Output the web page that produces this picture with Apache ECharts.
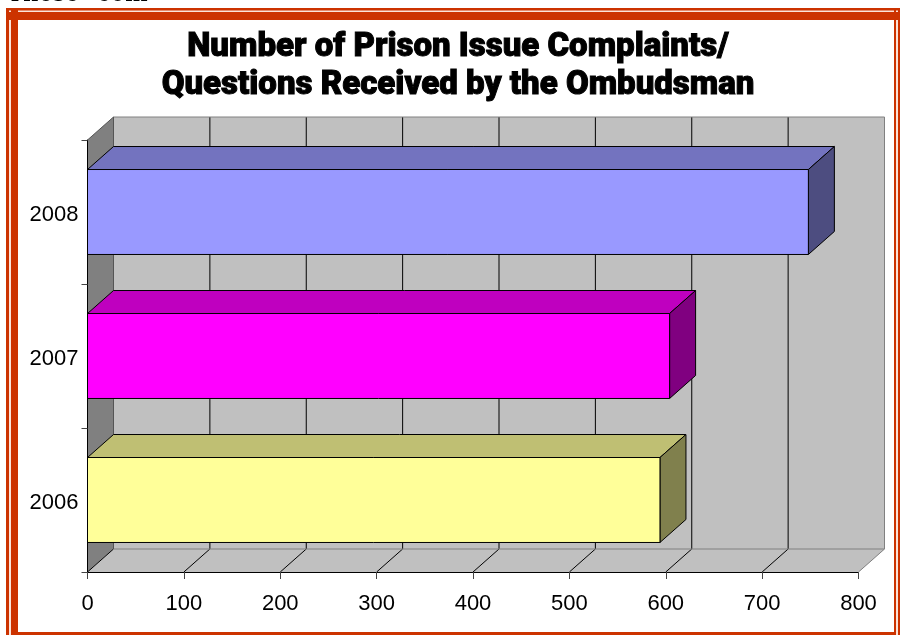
<!DOCTYPE html>
<html>
<head>
<meta charset="utf-8">
<style>
html, body { margin: 0; padding: 0; background: #fff; }
#main { width: 905px; height: 635px; }
</style>
<script src="https://cdn.jsdelivr.net/npm/echarts@6/dist/echarts.min.js"></script>
</head>
<body>
<div id="main"></div>
<script>
const categories = ['2006', '2007', '2008'];
const complaints = [594, 604, 748];
const xTicks = [0, 100, 200, 300, 400, 500, 600, 700, 800];

// front, top and side shades for each bar
const frontColors = ['#FFFF99', '#FF00FF', '#9999FF'];
const topColors = ['#BFBF73', '#BF00BF', '#7373BF'];
const sideColors = ['#80804D', '#800080', '#4D4D80'];

const depthX = 26;
const depthY = -23;
const barShare = 0.59;

function line(x1, y1, x2, y2, color) {
    return {
        type: 'line',
        shape: { x1, y1, x2, y2 },
        style: { stroke: color, lineWidth: 1 }
    };
}

function poly(points, fill, stroke) {
    return {
        type: 'polygon',
        shape: { points },
        style: { fill, stroke: stroke || 'none', lineWidth: 1 }
    };
}

function renderWalls(params, api) {
    const r = params.coordSys;
    const left = r.x, right = r.x + r.width, top = r.y, bottom = r.y + r.height;
    const children = [
        poly([[left + depthX, top + depthY], [right + depthX, top + depthY], [right + depthX, bottom + depthY], [left + depthX, bottom + depthY]], '#C0C0C0'),
        poly([[left, top], [left + depthX, top + depthY], [left + depthX, bottom + depthY], [left, bottom]], '#808080'),
        poly([[left, bottom], [left + depthX, bottom + depthY], [right + depthX, bottom + depthY], [right, bottom]], '#C0C0C0')
    ];
    xTicks.forEach(function (t) {
        const x = api.coord([t, 0])[0];
        if (t > 0 && t < 800) {
            children.push(line(x + depthX, top + depthY, x + depthX, bottom + depthY, '#000'));
        }
        children.push(line(x, bottom, x + depthX, bottom + depthY, t === 800 ? '#808080' : '#000'));
    });
    // outline of the back wall
    children.push(line(left + depthX, top + depthY, right + depthX, top + depthY, '#808080'));
    children.push(line(right + depthX, top + depthY, right + depthX, bottom + depthY, '#808080'));
    children.push(line(left + depthX, bottom + depthY, right + depthX, bottom + depthY, '#808080'));
    children.push(line(left + depthX, top + depthY, left + depthX, bottom + depthY, '#555'));
    children.push(line(left, top, left + depthX, top + depthY, '#555'));
    return { type: 'group', children };
}

function renderBar(params, api) {
    const i = api.value(1);
    const start = api.coord([0, i]);
    const end = api.coord([api.value(0), i]);
    const h = api.size([0, 1])[1] * barShare;
    const x0 = start[0], x1 = end[0];
    const y0 = end[1] - h / 2, y1 = end[1] + h / 2;
    return {
        type: 'group',
        children: [
            poly([[x0, y0], [x0 + depthX, y0 + depthY], [x1 + depthX, y0 + depthY], [x1, y0]], topColors[i], '#000'),
            poly([[x1, y0], [x1 + depthX, y0 + depthY], [x1 + depthX, y1 + depthY], [x1, y1]], sideColors[i], '#000'),
            poly([[x0, y0], [x1, y0], [x1, y1], [x0, y1]], frontColors[i], '#000')
        ]
    };
}

const frameColor = '#CC3300';

let myChart = echarts.init(document.getElementById('main'), null, { renderer: 'canvas' });
myChart.setOption({
    animation: false,
    backgroundColor: '#fff',
    title: {
        text: 'Number of Prison Issue Complaints/\nQuestions Received by the Ombudsman',
        left: 453,
        top: 24,
        textAlign: 'center',
        textStyle: {
            fontFamily: 'Roboto',
            fontWeight: 900,
            fontSize: 33,
            lineHeight: 38,
            color: '#000',
            textBorderColor: '#000',
            textBorderWidth: 1
        }
    },
    grid: { left: 87.5, top: 140, width: 771, height: 432 },
    xAxis: {
        type: 'value',
        min: 0,
        max: 800,
        interval: 100,
        z: 5,
        axisLine: { show: true, lineStyle: { color: '#000', width: 1 } },
        axisTick: { show: true, length: 7, lineStyle: { color: '#444' } },
        axisLabel: { fontFamily: 'Liberation Sans', fontSize: 22, color: '#000', margin: 21 },
        splitLine: { show: false }
    },
    yAxis: {
        type: 'category',
        data: categories,
        z: 5,
        axisLine: { show: true, lineStyle: { color: '#000', width: 1 } },
        axisTick: { show: true, length: 6, lineStyle: { color: '#444' } },
        axisLabel: { fontFamily: 'Liberation Sans', fontSize: 22, color: '#000', margin: 9, verticalAlign: 'top', lineHeight: 5 },
        splitLine: { show: false }
    },
    series: [
        {
            type: 'custom',
            z: 1,
            silent: true,
            renderItem: renderWalls,
            encode: { x: 0, y: 1 },
            data: [[0, 0]]
        },
        {
            type: 'custom',
            z: 2,
            silent: true,
            renderItem: renderBar,
            encode: { x: 0, y: 1 },
            data: complaints.map(function (v, i) { return [v, i]; })
        }
    ],
    graphic: [
        // cropped line of page text above the frame
        { type: 'text', x: 7, y: 7, style: { text: 'These', fontFamily: 'DejaVu Serif', fontSize: 24, fill: '#000', verticalAlign: 'bottom' } },
        { type: 'text', x: 97, y: 7, style: { text: 'com', fontFamily: 'DejaVu Serif', fontSize: 24, fill: '#000', verticalAlign: 'bottom' } },
        // red double frame
        { type: 'rect', shape: { x: 6, y: 8, width: 894, height: 12 }, style: { fill: frameColor } },
        { type: 'rect', shape: { x: 6, y: 8, width: 12, height: 627 }, style: { fill: frameColor } },
        { type: 'rect', shape: { x: 894, y: 8, width: 6, height: 627 }, style: { fill: frameColor } },
        { type: 'rect', shape: { x: 6, y: 632, width: 894, height: 3 }, style: { fill: frameColor } },
        { type: 'rect', shape: { x: 18, y: 10.5, width: 876, height: 1.5 }, style: { fill: '#FBE3D8' } },
        { type: 'rect', shape: { x: 9, y: 20, width: 2, height: 615 }, style: { fill: '#FBE3D8' } },
        { type: 'rect', shape: { x: 896, y: 20, width: 2, height: 615 }, style: { fill: '#FBE3D8' } },
        { type: 'rect', shape: { x: 9, y: 10.5, width: 2, height: 1.5 }, style: { fill: '#FBE3D8' } },
        { type: 'rect', shape: { x: 896, y: 10.5, width: 2, height: 1.5 }, style: { fill: '#FBE3D8' } }
    ]
});
</script>
</body>
</html>
